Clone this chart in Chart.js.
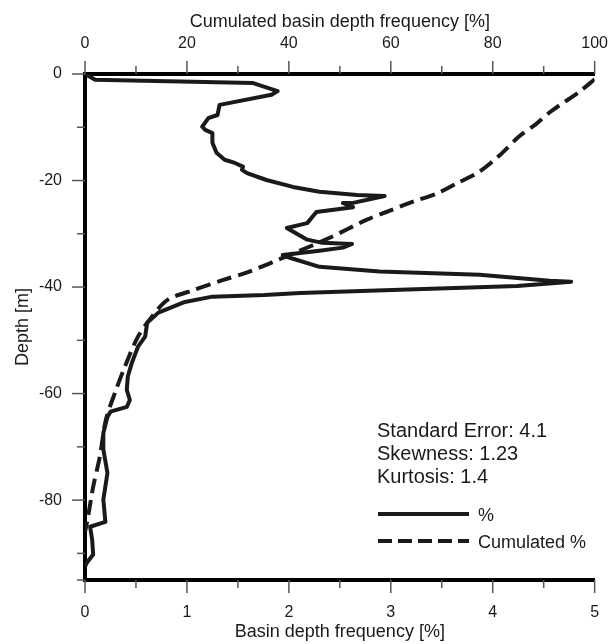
<!DOCTYPE html>
<html>
<head>
<meta charset="utf-8">
<script src="https://cdn.jsdelivr.net/npm/chart.js@4"></script>
<style>
  body { margin: 0; background: #fff; }
  canvas { display: block; }
</style>
</head>
<body>
<canvas id="chart" width="611" height="644"></canvas>
<script>
// depth profile of basin depth frequency (bottom axis, %)
const depthPct = [0, -1.1, -1.7, -3.2, -3.9, -5.8, -7.7, -8.3, -9.9, -10.5, -11.1, -12.9, -14.8, -16.1, -16.7, -17.4, -18.0, -18.6, -19.9, -21.2, -22.1, -22.7, -22.9, -24.2, -24.2, -25.0, -25.9, -28.0, -28.9, -31.1, -31.7, -31.9, -32.6, -33.2, -34.0, -34.5, -36.2, -37.1, -37.7, -38.8, -39.0, -39.8, -40.5, -41.1, -41.5, -41.8, -42.8, -44.8, -46.7, -49.3, -51.2, -54.2, -56.8, -59.3, -61.2, -62.5, -63.4, -64.4, -67.4, -70.5, -74.9, -79.9, -84.1, -85.0, -87.4, -90.2, -91.7, -92.5];
const basinPct = [0, 0.1, 1.65, 1.89, 1.83, 1.32, 1.30, 1.21, 1.15, 1.18, 1.25, 1.25, 1.29, 1.37, 1.47, 1.55, 1.54, 1.59, 1.78, 2.04, 2.30, 2.67, 2.94, 2.63, 2.53, 2.63, 2.27, 2.18, 1.98, 2.18, 2.33, 2.62, 2.53, 2.30, 1.94, 2.01, 2.30, 2.89, 3.87, 4.56, 4.77, 4.24, 3.09, 2.11, 1.76, 1.25, 0.98, 0.72, 0.61, 0.59, 0.52, 0.46, 0.42, 0.41, 0.44, 0.41, 0.25, 0.22, 0.18, 0.18, 0.22, 0.18, 0.20, 0.05, 0.07, 0.08, 0.02, 0];

// cumulated frequency (top axis, %)
const depthCum = [-1, -3.4, -6.9, -9.4, -11.8, -15.4, -18.4, -20.6, -22.5, -24.0, -25.7, -27.4, -30.8, -34.0, -37.3, -38.7, -40.5, -42.4, -45.6, -49.3, -55.0, -59.8, -64.9, -71.9, -77.5, -83.1, -86.0];
const cumPct = [100, 96.9, 91.6, 88.5, 85.1, 81.2, 77.3, 72.8, 68.9, 64.2, 59.7, 55.2, 47.9, 40.1, 31.7, 27.0, 21.5, 16.2, 13.1, 10.4, 7.8, 5.9, 4.1, 2.9, 1.6, 0.6, 0];

const statLines = ['Standard Error: 4.1', 'Skewness: 1.23', 'Kurtosis: 1.4'];
const seriesNames = ['%', 'Cumulated %'];

const FONT = "'Liberation Sans', Arial, sans-serif";
const INK = '#1a1a1a';

// little tick marks outside the axes, long for labelled ticks
const tickMarks = {
    id: 'tickMarks',
    afterDraw(chart) {
        const ctx = chart.ctx;
        const area = chart.chartArea;
        ctx.save();
        ctx.strokeStyle = '#555';
        ctx.lineWidth = 1.5;
        const { x, x2, y } = chart.scales;
        x.ticks.forEach(t => {
            const px = x.getPixelForValue(t.value);
            const len = Number.isInteger(t.value) ? 13 : 8;
            ctx.beginPath(); ctx.moveTo(px, area.bottom); ctx.lineTo(px, area.bottom + len); ctx.stroke();
        });
        x2.ticks.forEach(t => {
            const px = x2.getPixelForValue(t.value);
            const len = t.value % 20 === 0 ? 13 : 8;
            ctx.beginPath(); ctx.moveTo(px, area.top); ctx.lineTo(px, area.top - len); ctx.stroke();
        });
        y.ticks.forEach(t => {
            const py = y.getPixelForValue(t.value);
            const len = t.value % 20 === 0 ? 13 : 8;
            ctx.beginPath(); ctx.moveTo(area.left, py); ctx.lineTo(area.left - len, py); ctx.stroke();
        });
        ctx.restore();
    }
};

// statistics block and legend, lower right of the plot
const notes = {
    id: 'notes',
    afterDraw(chart) {
        const ctx = chart.ctx;
        const left = chart.chartArea.left + 292;
        ctx.save();
        ctx.fillStyle = INK;
        ctx.textBaseline = 'alphabetic';
        ctx.font = '20px ' + FONT;
        statLines.forEach((s, i) => ctx.fillText(s, left, 437 + i * 23));

        ctx.font = '18px ' + FONT;
        chart.data.datasets.forEach((ds, i) => {
            const yy = 514 + i * 27;
            ctx.strokeStyle = ds.borderColor;
            ctx.lineWidth = 4;
            ctx.setLineDash(i === 0 ? [] : [14, 6]);
            ctx.beginPath(); ctx.moveTo(left + 1, yy); ctx.lineTo(left + 92, yy); ctx.stroke();
            ctx.setLineDash([]);
            ctx.fillText(ds.label, left + 101, yy + 6.5);
        });
        ctx.restore();
    }
};

const ctx = document.getElementById('chart');
new Chart(ctx, {
    type: 'scatter',
    data: {
        datasets: [
            {
                label: seriesNames[0],
                data: depthPct.map((d, i) => ({ x: basinPct[i], y: d })),
                xAxisID: 'x',
                showLine: true,
                borderColor: INK,
                borderWidth: 4,
                borderJoinStyle: 'round',
                pointRadius: 0,
                tension: 0
            },
            {
                label: seriesNames[1],
                data: depthCum.map((d, i) => ({ x: cumPct[i], y: d })),
                xAxisID: 'x2',
                showLine: true,
                borderColor: INK,
                borderWidth: 4,
                borderDash: [15, 7],
                pointRadius: 0,
                tension: 0.3
            }
        ]
    },
    options: {
        responsive: false,
        animation: false,
        devicePixelRatio: 1,
        layout: { padding: { left: 0, top: 0, right: 15, bottom: 0 } },
        plugins: { legend: { display: false }, tooltip: { enabled: false } },
        scales: {
            x: {
                type: 'linear', position: 'bottom', min: 0, max: 5,
                afterFit: s => { s.height = 64; },
                border: { display: true, color: '#000', width: 4 },
                grid: { drawOnChartArea: false, tickLength: 20, tickColor: 'rgba(0,0,0,0)' },
                ticks: {
                    stepSize: 0.5, padding: 3, color: INK, maxRotation: 0,
                    font: { family: FONT, size: 16 },
                    callback: v => Number.isInteger(v) ? String(v) : ''
                },
                title: {
                    display: true, text: 'Basin depth frequency [%]', color: INK,
                    font: { family: FONT, size: 18 }, padding: { top: 0, bottom: 1 }
                }
            },
            x2: {
                type: 'linear', position: 'top', min: 0, max: 100,
                afterFit: s => { s.height = 74; },
                border: { display: true, color: '#000', width: 4 },
                grid: { drawOnChartArea: false, tickLength: 18, tickColor: 'rgba(0,0,0,0)' },
                ticks: {
                    stepSize: 10, padding: 3, color: INK, maxRotation: 0,
                    font: { family: FONT, size: 16 },
                    callback: v => v % 20 === 0 ? String(v) : ''
                },
                title: {
                    display: true, text: 'Cumulated basin depth frequency [%]', color: INK,
                    font: { family: FONT, size: 18 }, padding: { top: 11, bottom: 0 }
                }
            },
            y: {
                type: 'linear', position: 'left', min: -95, max: 0,
                afterFit: s => { s.width = 85; },
                border: { display: true, color: '#000', width: 4 },
                grid: { drawOnChartArea: false, tickLength: 20, tickColor: 'rgba(0,0,0,0)' },
                ticks: {
                    stepSize: 10, padding: 3, color: INK,
                    font: { family: FONT, size: 16 },
                    callback: v => v % 20 === 0 ? String(v) : ''
                },
                title: {
                    display: true, text: 'Depth [m]', color: INK,
                    font: { family: FONT, size: 18 }, padding: { top: 12, bottom: 0 }
                }
            }
        }
    },
    plugins: [tickMarks, notes]
});
</script>
</body>
</html>
